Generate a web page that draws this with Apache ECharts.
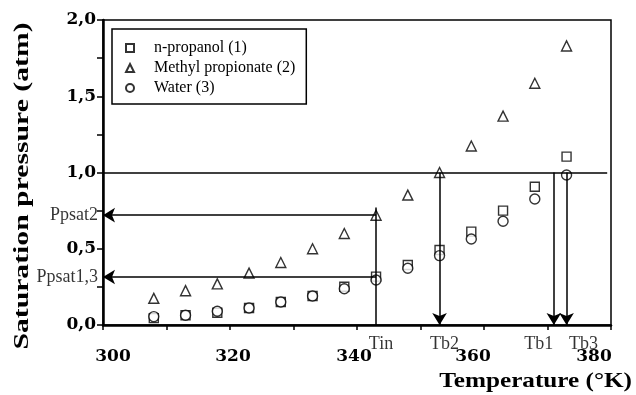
<!DOCTYPE html>
<html>
<head>
<meta charset="utf-8">
<script src="https://cdn.jsdelivr.net/npm/echarts@6/dist/echarts.min.js"></script>
<style>
  html, body { margin: 0; padding: 0; background: #fff; }
  #chart { width: 636px; height: 395px; }
</style>
</head>
<body>
<div id="chart"></div>
<script>
// Measured saturation pressures (atm) against temperature (K)
const temperatures = [308, 313, 318, 323, 328, 333, 338, 343, 348, 353, 358, 363, 368, 373];
const propanol = [0.045, 0.064, 0.08, 0.111, 0.151, 0.19, 0.251, 0.317, 0.393, 0.492, 0.612, 0.75, 0.907, 1.104];
const methylPropionate = [0.175, 0.225, 0.27, 0.34, 0.41, 0.50, 0.60, 0.72, 0.852, 1.0, 1.174, 1.37, 1.585, 1.83];
const water = [0.055, 0.064, 0.09, 0.111, 0.151, 0.19, 0.238, 0.295, 0.372, 0.455, 0.564, 0.68, 0.826, 0.984];

const seriesNames = ['n-propanol (1)', 'Methyl propionate (2)', 'Water (3)'];

// Feed temperature, boiling points and the pressures read at the feed temperature
const feedTemp = 343;
const boilingNames = ['Tb2', 'Tb1', 'Tb3'];
const boilingTemps = [353, 371, 373];
const pressureNames = ['Ppsat2', 'Ppsat1,3'];
const pressureValues = [0.72, 0.315];
const atmosphere = 1.0;

// Axis ranges and labelled temperatures
const tMin = 300, tMax = 380, tStep = 10;
const pMin = 0, pMax = 2, pStep = 0.25;
const tempLabels = [300, 320, 340, 360, 380];

const SERIF = '"Liberation Serif", "Times New Roman", serif';
const BOLD_DIGITS = '"DejaVu Serif", "Liberation Serif", serif';
const pairs = vals => temperatures.map((t, i) => [t, vals[i]]);

const hollow = { color: '#fff', borderColor: '#000', borderWidth: 1.4 };
const lineStyle = { color: '#000', width: 1.5, type: 'solid' };

// Horizontal nudges of the temperature tick labels (px, + = right)
const labelNudge = [10, 3, -3, -11, -17];
const tickRich = {};
tempLabels.forEach((t, i) => {
  const n = labelNudge[i];
  tickRich['t' + i] = { padding: n >= 0 ? [0, 0, 0, 2 * n] : [0, -2 * n, 0, 0] };
});

// Guide lines: 1 atm reference, feed-temperature construction and boiling-point arrows
const guides = [];
guides.push([{ coord: [tMin, atmosphere], symbol: 'none' }, { coord: [379.4, atmosphere], symbol: 'none' }]);
guides.push([{ coord: [feedTemp, pMin], symbol: 'none' }, { coord: [feedTemp, 0.77], symbol: 'none' }]);
pressureValues.forEach(p => {
  guides.push([{ coord: [feedTemp, p], symbol: 'none' }, { coord: [tMin, p], symbol: 'arrow' }]);
});
boilingTemps.forEach(t => {
  guides.push([{ coord: [t, atmosphere], symbol: 'none' }, { coord: [t, pMin], symbol: 'arrow' }]);
});

// Text labels sitting at the ends of the construction lines
const xNoteOffsets = [5, 5, -15, 17];
const xNotes = [['Tin', feedTemp]].concat(boilingNames.map((n, i) => [n, boilingTemps[i]]))
  .map(([name, t], i) => ({
    name, value: [t, pMin],
    label: { position: 'bottom', distance: 10, offset: [xNoteOffsets[i], 0] }
  }));
const yNotes = pressureNames.map((name, i) => ({
  name, value: [tMin, pressureValues[i]],
  label: { position: 'left', distance: 5 }
}));

const option = {
  animation: false,
  backgroundColor: '#fff',
  grid: { left: 103, right: 25, top: 20, bottom: 70, show: true, borderColor: '#000', borderWidth: 1.5 },
  xAxis: {
    type: 'value', min: tMin, max: tMax, interval: tStep,
    axisLine: { lineStyle: { color: '#000', width: 2.5 } },
    axisTick: { length: 5, lineStyle: { color: '#000', width: 1.5 } },
    splitLine: { show: false },
    axisLabel: {
      margin: 23, color: '#000', fontFamily: BOLD_DIGITS, fontWeight: 'bold', fontSize: 17,
      rich: tickRich,
      formatter: v => {
        const i = tempLabels.indexOf(v);
        return i < 0 ? '' : '{t' + i + '|' + v + '}';
      }
    }
  },
  yAxis: {
    type: 'value', min: pMin, max: pMax, interval: pStep,
    axisLine: { lineStyle: { color: '#000', width: 2.5 } },
    axisTick: { length: 6, lineStyle: { color: '#000', width: 1.5 } },
    splitLine: { show: false },
    axisLabel: {
      margin: 7, color: '#000', fontFamily: BOLD_DIGITS, fontWeight: 'bold', fontSize: 17,
      formatter: v => (Math.abs(v * 2 - Math.round(v * 2)) < 1e-9 ? v.toFixed(1).replace('.', ',') : '')
    }
  },
  legend: {
    orient: 'vertical', left: 112, top: 29,
    padding: [11, 11, 8, 13],
    borderColor: '#000', borderWidth: 1.5,
    itemWidth: 8, itemHeight: 8, itemGap: 4,
    textStyle: { color: '#000', fontFamily: SERIF, fontSize: 16, padding: [0, 0, 0, 15] },
    data: [
      { name: seriesNames[0], icon: 'rect', itemStyle: { color: '#fff', borderColor: '#000', borderWidth: 2 } },
      { name: seriesNames[1], icon: 'triangle', itemStyle: { color: '#fff', borderColor: '#000', borderWidth: 2 } },
      { name: seriesNames[2], icon: 'circle', itemStyle: { color: '#fff', borderColor: '#000', borderWidth: 2 } }
    ]
  },
  graphic: [
    {
      type: 'text', x: 632, y: 382, scaleX: 1.2,
      style: { text: 'Temperature (°K)', font: 'bold 21px ' + SERIF, fill: '#000', align: 'right', verticalAlign: 'middle' }
    },
    {
      type: 'text', x: 22, y: 186, rotation: Math.PI / 2, scaleX: 1.35,
      style: { text: 'Saturation pressure (atm)', font: 'bold 22px ' + SERIF, fill: '#000', align: 'center', verticalAlign: 'middle' }
    }
  ],
  series: [
    {
      name: 'guides', type: 'scatter', data: [], silent: true, z: 1,
      markLine: {
        silent: true, symbolSize: [11, 12], lineStyle: lineStyle, label: { show: false },
        emphasis: { disabled: true }, animation: false,
        data: guides
      }
    },
    { name: seriesNames[0], type: 'scatter', symbol: 'rect', symbolSize: 9, itemStyle: hollow, data: pairs(propanol), z: 2 },
    { name: seriesNames[1], type: 'scatter', symbol: 'triangle', symbolSize: 10, itemStyle: hollow, data: pairs(methylPropionate), z: 2 },
    { name: seriesNames[2], type: 'scatter', symbol: 'circle', symbolSize: 10, itemStyle: hollow, data: pairs(water), z: 3 },
    {
      name: 'notes', type: 'scatter', symbolSize: 0, silent: true, z: 4,
      label: { show: true, formatter: '{b}', color: '#000', fontFamily: SERIF, fontSize: 18 },
      data: xNotes.concat(yNotes)
    }
  ]
};

const chart = echarts.init(document.getElementById('chart'));
chart.setOption(option);
</script>
</body>
</html>
